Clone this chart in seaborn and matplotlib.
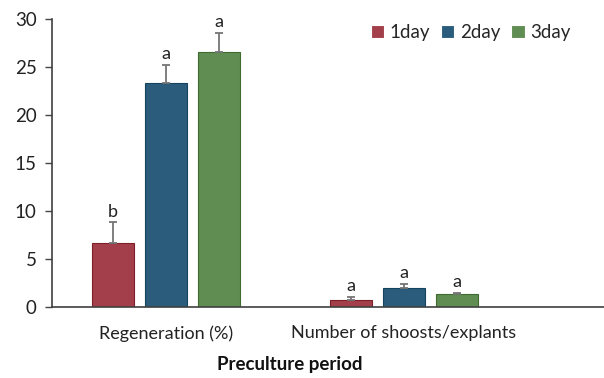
import numpy as np
import pandas as pd
import matplotlib
matplotlib.use("Agg")
import matplotlib.pyplot as plt
import seaborn as sns

categories = ["Regeneration (%)", "Number of shoosts/explants"]
days = ["1day", "2day", "3day"]
means_1day = [6.7, 0.7]
means_2day = [23.3, 2.0]
means_3day = [26.6, 1.35]
err_1day = [2.1, 0.3]
err_2day = [1.9, 0.4]
err_3day = [1.9, 0.15]
letters_1day = ["b", "a"]
letters_2day = ["a", "a"]
letters_3day = ["a", "a"]

colors = ["#B22F3D", "#1F5F88", "#5A9848"]
edges = ["#7E1E28", "#15445F", "#3E6C30"]

rows = []
for day, m in zip(days, [means_1day, means_2day, means_3day]):
    for cat, v in zip(categories, m):
        rows.append({"cat": cat, "day": day, "value": v})
df = pd.DataFrame(rows)
errs = [err_1day, err_2day, err_3day]
letters = [letters_1day, letters_2day, letters_3day]

sns.set_style("white")
plt.rcParams['font.family'] = ['Lato', 'DejaVu Sans']

fig = plt.figure(figsize=(6.04, 3.78), dpi=100)
ax = fig.add_axes([0.086, 0.188, 0.914, 0.762])

sns.barplot(data=df, x="cat", y="value", hue="day", order=categories,
            hue_order=days, palette=colors, width=0.668, gap=0.21,
            errorbar=None, ax=ax, linewidth=0.8)

bar_conts = list(ax.containers)
for i, cont in enumerate(bar_conts):
    for j, bar in enumerate(cont):
        bar.set_edgecolor(edges[i])
        x = bar.get_x() + bar.get_width() / 2
        h = bar.get_height()
        e = errs[i][j]
        ax.errorbar(x, h, yerr=[[0], [e]], fmt="none", ecolor="#757575",
                    elinewidth=1.3, capsize=3, capthick=1.3, zorder=1)
        ax.text(x, h + e + 0.3, letters[i][j], ha="center", va="bottom",
                fontsize=13, color="#222222")

ax.set_ylim(0, 30)
ax.set_yticks([0, 5, 10, 15, 20, 25, 30])
ax.set_xlim(-0.479, 1.84)
ax.set_xlabel("Preculture period", fontsize=13.5, fontweight="bold",
              color="#111111")
ax.xaxis.set_label_coords(0.43, -0.17)
ax.set_ylabel("")
ax.tick_params(axis="y", labelsize=13.5, length=5, width=1, color="#444444",
               labelcolor="#222222", direction="out", left=True, pad=6)
ax.tick_params(axis="x", labelsize=13, length=0, pad=13, labelcolor="#222222")
sns.despine(ax=ax)
for s in ["left", "bottom"]:
    ax.spines[s].set_color("#404040")
    ax.spines[s].set_linewidth(1.2)

ax.legend(loc="upper right", bbox_to_anchor=(0.97, 1.04), ncol=3, frameon=False,
          fontsize=13.5, handlelength=0.7, handleheight=0.7, handletextpad=0.3,
          columnspacing=0.6)

fig.savefig("out.png", dpi=100)
